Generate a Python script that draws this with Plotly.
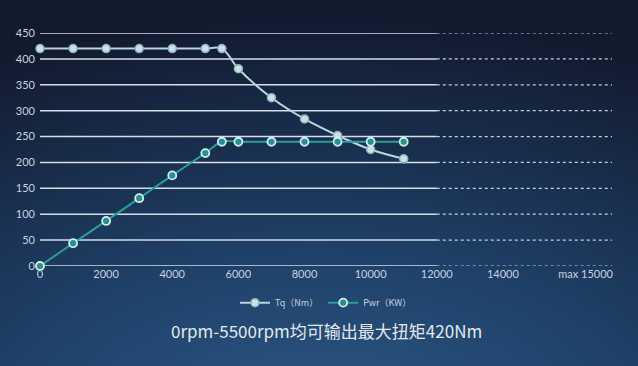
import plotly.graph_objects as go
import base64

rpm = [0, 1000, 2000, 3000, 4000, 5000, 5500, 6000, 7000, 8000, 9000, 10000, 11000]
tq = [420, 420, 420, 420, 420, 420, 420, 381, 325, 284, 252, 225, 207]
pwr = [0, 44, 87, 131, 175, 218, 240, 240, 240, 240, 240, 240, 240]
y_ticks = [0, 50, 100, 150, 200, 250, 300, 350, 400, 450]
x_ticks = [0, 2000, 4000, 6000, 8000, 10000, 12000, 14000, 16500]
x_ticktext = ["0", "2000", "4000", "6000", "8000", "10000", "12000", "14000", "max 15000"]
solid_end = 12000
dash_end = 17300
title_text = "0rpm-5500rpm均可输出最大扭矩420Nm"

W, H = 638, 366
ML, MR, MT, MB = 40, 26, 33, 100
PW, PH = W - ML - MR, H - MT - MB

svg = """<svg xmlns='http://www.w3.org/2000/svg' width='638' height='366'>
<defs><radialGradient id='g' cx='0.5' cy='1.2' r='1.15'>
<stop offset='0' stop-color='#2c5b88'/>
<stop offset='0.45' stop-color='#1f4068'/>
<stop offset='1' stop-color='#121a2e'/>
</radialGradient></defs>
<rect width='638' height='366' fill='url(#g)'/></svg>"""
bg = "data:image/svg+xml;base64," + base64.b64encode(svg.encode()).decode()

fig = go.Figure()
fig.add_trace(go.Scatter(
    x=rpm, y=tq, name="Tq（Nm）", mode="lines+markers", line_shape="spline",
    line=dict(color="#b9d5dd", width=2),
    marker=dict(size=8, color="#c9e2e8", line=dict(color="#8fb3bd", width=1.5)),
    cliponaxis=False))
fig.add_trace(go.Scatter(
    x=rpm, y=pwr, name="Pwr（KW）", mode="lines+markers", line_shape="spline",
    line=dict(color="#2a9e98", width=2),
    marker=dict(size=8, color="#2a8f8e", line=dict(color="#cfeef0", width=1.8)),
    cliponaxis=False))

shapes = []
for v in y_ticks:
    shapes.append(dict(type="line", xref="x", yref="y", x0=0, x1=solid_end, y0=v, y1=v,
                       line=dict(color="#d5dde8", width=1.5), layer="below"))
    shapes.append(dict(type="line", xref="x", yref="y", x0=solid_end, x1=dash_end, y0=v, y1=v,
                       line=dict(color="#c5d0dc", width=1.2, dash="3px,3px"), layer="below"))

fig.update_layout(
    width=W, height=H,
    margin=dict(l=ML, r=MR, t=MT, b=MB, autoexpand=False),
    paper_bgcolor="#17223a", plot_bgcolor="rgba(0,0,0,0)",
    images=[dict(source=bg, xref="paper", yref="paper",
                 x=-(ML + 2) / PW, y=1 + (MT + 2) / PH,
                 sizex=(W + 4) / PW, sizey=(H + 4) / PH, sizing="stretch", layer="below",
                 xanchor="left", yanchor="top")],
    shapes=shapes,
    xaxis=dict(range=[0, dash_end], tickvals=x_ticks, ticktext=x_ticktext,
               showgrid=False, zeroline=False, showline=False, ticks="",
               tickfont=dict(family="Lato, Noto Sans", size=11, color="#c8d2de")),
    yaxis=dict(range=[0, 450], tickvals=y_ticks, showgrid=False, zeroline=False,
               showline=False, ticks="", ticklabelstandoff=4,
               tickfont=dict(family="Lato, Noto Sans", size=11, color="#c8d2de")),
    legend=dict(orientation="h", x=0.5, xanchor="center", y=-0.095, yanchor="top",
                font=dict(family="Noto Sans CJK SC, Noto Sans", size=9, color="#c8d2de"),
                bgcolor="rgba(0,0,0,0)", itemwidth=30),
    annotations=[dict(text=title_text, xref="paper", yref="paper", x=0.5, y=-0.275,
                      xanchor="center", yanchor="middle", showarrow=False,
                      font=dict(family="Noto Sans CJK SC", size=17, color="#e3e8ef"))],
    showlegend=True,
)
fig.write_html("out.html", config={"displayModeBar": False},
               post_script="document.body.style.margin='0';document.body.style.background='#17223a';")
